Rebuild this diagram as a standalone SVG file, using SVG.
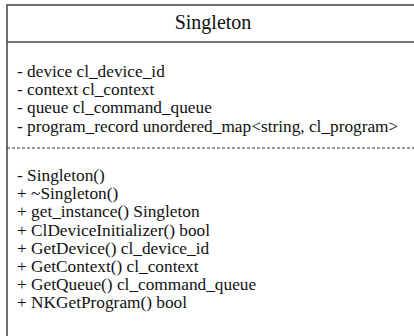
<svg xmlns="http://www.w3.org/2000/svg" width="414" height="336" viewBox="0 0 414 336">
<style>
.box{fill:#ffffff;stroke:#4d4d4d;stroke-width:1.6}
.sep{stroke:#4d4d4d;stroke-width:1.6}
.dash{stroke:#333333;stroke-width:1.2;stroke-dasharray:3,2}
.t{font-size:20px}
.m{font-size:17.3px}
</style>
<rect width="414" height="336" fill="#ffffff"/>
<g id="Singleton">
<rect class="box" x="7" y="5" width="414" height="340"/>
<line class="sep" x1="7" y1="42" x2="414" y2="42"/>
<line class="dash" x1="7" y1="148" x2="414" y2="148"/>
<g font-family="Liberation Serif, Times New Roman, serif" fill="#111111">
<text class="t" x="213" y="29" text-anchor="middle">Singleton</text>
<text class="m" x="17" y="77">- device cl_device_id</text>
<text class="m" x="17" y="95">- context cl_context</text>
<text class="m" x="17" y="113">- queue cl_command_queue</text>
<text class="m" x="17" y="132">- program_record unordered_map&lt;string, cl_program&gt;</text>
<text class="m" x="17" y="181">- Singleton()</text>
<text class="m" x="17" y="199">+ ~Singleton()</text>
<text class="m" x="17" y="217">+ get_instance() Singleton</text>
<text class="m" x="17" y="236">+ ClDeviceInitializer() bool</text>
<text class="m" x="17" y="254">+ GetDevice() cl_device_id</text>
<text class="m" x="17" y="272">+ GetContext() cl_context</text>
<text class="m" x="17" y="290">+ GetQueue() cl_command_queue</text>
<text class="m" x="17" y="308">+ NKGetProgram() bool</text>
</g>
</g>
</svg>
